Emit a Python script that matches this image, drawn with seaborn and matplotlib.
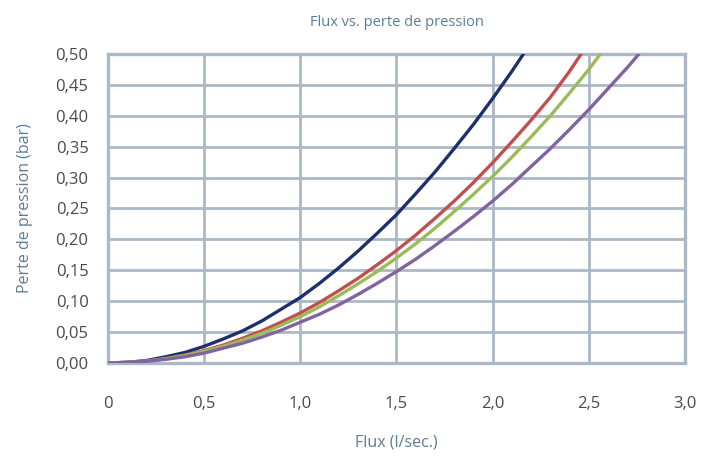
import pandas as pd
import seaborn as sns
import matplotlib.pyplot as plt

# valeurs (débit en l/s, perte en bar)
flux_bleu = [0, 0.1, 0.2, 0.3, 0.4, 0.5, 0.6, 0.7, 0.8, 0.9, 1.0, 1.1, 1.2, 1.3, 1.4, 1.5,
             1.6, 1.7, 1.8, 1.9, 2.0, 2.1, 2.16]
perte_bleu = [0, 0.001, 0.004, 0.010, 0.017, 0.027, 0.039, 0.052, 0.068, 0.087, 0.106, 0.129,
              0.154, 0.181, 0.210, 0.240, 0.274, 0.309, 0.347, 0.386, 0.428, 0.472, 0.50]

flux_rouge = [0, 0.1, 0.2, 0.3, 0.4, 0.5, 0.6, 0.7, 0.8, 0.9, 1.0, 1.1, 1.2, 1.3, 1.4, 1.5,
              1.6, 1.7, 1.8, 1.9, 2.0, 2.1, 2.2, 2.3, 2.4, 2.46]
perte_rouge = [0, 0.001, 0.003, 0.007, 0.013, 0.020, 0.029, 0.040, 0.052, 0.066, 0.081, 0.098,
               0.117, 0.137, 0.159, 0.182, 0.207, 0.234, 0.262, 0.292, 0.324, 0.358, 0.393,
               0.430, 0.472, 0.50]

flux_vert = [0, 0.1, 0.2, 0.3, 0.4, 0.5, 0.6, 0.7, 0.8, 0.9, 1.0, 1.1, 1.2, 1.3, 1.4, 1.5,
             1.6, 1.7, 1.8, 1.9, 2.0, 2.1, 2.2, 2.3, 2.4, 2.5, 2.56]
perte_vert = [0, 0.001, 0.003, 0.007, 0.012, 0.019, 0.027, 0.037, 0.048, 0.061, 0.075, 0.091,
              0.109, 0.128, 0.148, 0.170, 0.193, 0.218, 0.245, 0.273, 0.302, 0.333, 0.366,
              0.400, 0.437, 0.475, 0.50]

flux_violet = [0, 0.1, 0.2, 0.3, 0.4, 0.5, 0.6, 0.7, 0.8, 0.9, 1.0, 1.1, 1.2, 1.3, 1.4, 1.5,
               1.6, 1.7, 1.8, 1.9, 2.0, 2.1, 2.2, 2.3, 2.4, 2.5, 2.6, 2.7, 2.76]
perte_violet = [0, 0.001, 0.003, 0.006, 0.010, 0.016, 0.024, 0.032, 0.042, 0.053, 0.066, 0.079,
                0.094, 0.111, 0.129, 0.148, 0.168, 0.190, 0.213, 0.237, 0.262, 0.289, 0.318,
                0.347, 0.378, 0.410, 0.444, 0.478, 0.50]

couleurs = {"bleu": "#1f2f6b", "rouge": "#c0504d", "vert": "#9bbb59", "violet": "#8064a2"}

x_ticks = [0, 0.5, 1.0, 1.5, 2.0, 2.5, 3.0]
x_labels = ["0", "0,5", "1,0", "1,5", "2,0", "2,5", "3,0"]
y_ticks = [0, 0.05, 0.10, 0.15, 0.20, 0.25, 0.30, 0.35, 0.40, 0.45, 0.50]
y_labels = ["0,00", "0,05", "0,10", "0,15", "0,20", "0,25", "0,30", "0,35", "0,40", "0,45", "0,50"]


def build_df() -> pd.DataFrame:
    parts = []
    for nom, fx, pp in [("bleu", flux_bleu, perte_bleu), ("rouge", flux_rouge, perte_rouge),
                        ("vert", flux_vert, perte_vert), ("violet", flux_violet, perte_violet)]:
        parts.append(pd.DataFrame({"flux": fx, "perte": pp, "serie": nom}))
    return pd.concat(parts, ignore_index=True)


sns.set_theme(style="white")
plt.rcParams["font.family"] = ["Open Sans", "DejaVu Sans"]

grid_col = "#aab9c5"
label_col = "#5b7c95"

fig = plt.figure(figsize=(7.03, 4.61), dpi=100)
ax = fig.add_axes([0.1536, 0.2126, 0.8208, 0.6703])

df = build_df()
sns.lineplot(data=df, x="flux", y="perte", hue="serie", palette=couleurs,
             linewidth=2.4, sort=False, legend=False, ax=ax, zorder=3)

ax.set_xlim(0, 3.0)
ax.set_ylim(0, 0.5)
ax.set_xticks(x_ticks, x_labels)
ax.set_yticks(y_ticks, y_labels)
ax.grid(True, color=grid_col, linewidth=2.0)
for s in ax.spines.values():
    s.set_color(grid_col)
    s.set_linewidth(2.4)
ax.tick_params(axis="x", length=0, pad=24, labelsize=12, labelcolor="#4a4a4a")
ax.tick_params(axis="y", length=0, pad=14, labelsize=12, labelcolor="#4a4a4a")

ax.set_xlabel("Flux (l/sec.)", fontsize=11.5, color=label_col, labelpad=16)
ax.set_ylabel("Perte de pression (bar)", fontsize=11.5, color=label_col, labelpad=16)
ax.set_title("Flux vs. perte de pression", fontsize=10.5, color=label_col, pad=20)

fig.savefig("out.png", dpi=100)
